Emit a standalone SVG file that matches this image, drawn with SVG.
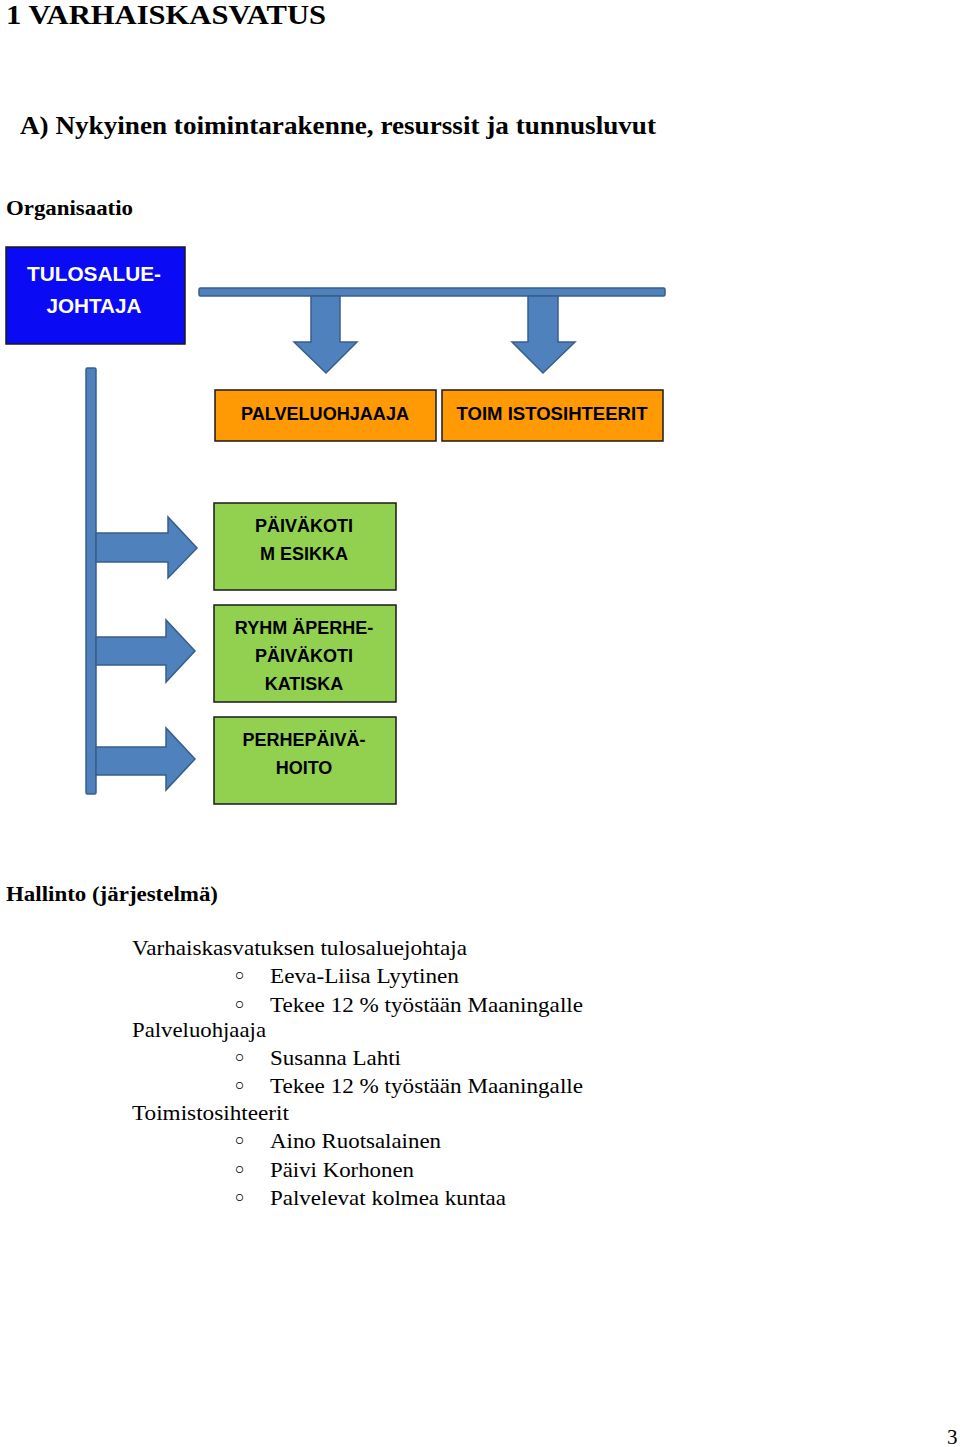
<svg xmlns="http://www.w3.org/2000/svg" width="960" height="1447" viewBox="0 0 960 1447">
<style>
.h{font-family:"Liberation Serif","Times New Roman",serif;font-weight:bold;fill:#000}
.t{font-family:"Liberation Serif","Times New Roman",serif;font-size:21px;fill:#000}
.b{font-family:"DejaVu Sans",sans-serif;font-size:20px;font-weight:bold;fill:#000}
.n{font-family:"Liberation Sans",Arial,sans-serif;font-weight:bold;font-size:18px;fill:#000;text-anchor:middle}
.w{fill:#fff;font-size:20px}
.arr{fill:#4F81BD;stroke:#385D8A;stroke-width:1.5}
.box{stroke:#1a1a1a;stroke-width:1.5}
</style>
<rect width="960" height="1447" fill="#fff"/>
<text class="h" x="6" y="24" font-size="28" textLength="320" lengthAdjust="spacingAndGlyphs">1 VARHAISKASVATUS</text>
<text class="h" x="20" y="134" font-size="25" textLength="636" lengthAdjust="spacingAndGlyphs">A)  Nykyinen toimintarakenne, resurssit ja tunnusluvut</text>
<text class="h" x="6" y="215" font-size="20" textLength="127" lengthAdjust="spacingAndGlyphs">Organisaatio</text>

<g id="connectors">
<rect class="arr" x="199" y="288" width="466" height="8" rx="1.5"/>
<polygon class="arr" points="311,296 340,296 340,342 357,342 326,373 294,342 311,342"/>
<polygon class="arr" points="528,296 558,296 558,342 575,342 543,373 512,342 528,342"/>
<rect class="arr" x="86" y="368" width="10" height="426" rx="1.5"/>
<polygon class="arr" points="96,533 168,533 168,517 197,548 168,578 168,562 96,562"/>
<polygon class="arr" points="96,637 166,637 166,620 195,651 166,682 166,665 96,665"/>
<polygon class="arr" points="96,747 166,747 166,728 195,759 166,790 166,775 96,775"/>
</g>

<g id="tulosaluejohtaja">
<rect class="box" x="6" y="247" width="179" height="97" fill="#0A0AF5"/>
<text class="n w" x="94" y="281" textLength="134" lengthAdjust="spacingAndGlyphs">TULOSALUE-</text>
<text class="n w" x="94" y="313" textLength="95" lengthAdjust="spacingAndGlyphs">JOHTAJA</text>
</g>
<g id="palveluohjaaja">
<rect class="box" x="215" y="390" width="221" height="51" fill="#FF9A05"/>
<text class="n" x="325" y="420" textLength="168" lengthAdjust="spacingAndGlyphs">PALVELUOHJAAJA</text>
</g>
<g id="toimistosihteerit">
<rect class="box" x="442" y="390" width="221" height="51" fill="#FF9A05"/>
<text class="n" x="552" y="420" textLength="191" lengthAdjust="spacingAndGlyphs">TOIM ISTOSIHTEERIT</text>
</g>
<g id="mesikka">
<rect class="box" x="214" y="503" width="182" height="87" fill="#92D050"/>
<text class="n" x="304" y="532">PÄIVÄKOTI</text>
<text class="n" x="304" y="560">M ESIKKA</text>
</g>
<g id="katiska">
<rect class="box" x="214" y="605" width="182" height="97" fill="#92D050"/>
<text class="n" x="304" y="634">RYHM ÄPERHE-</text>
<text class="n" x="304" y="662">PÄIVÄKOTI</text>
<text class="n" x="304" y="690">KATISKA</text>
</g>
<g id="perhepaivahoito">
<rect class="box" x="214" y="717" width="182" height="87" fill="#92D050"/>
<text class="n" x="304" y="746">PERHEPÄIVÄ-</text>
<text class="n" x="304" y="774">HOITO</text>
</g>

<text class="h" x="6" y="901" font-size="20" textLength="212" lengthAdjust="spacingAndGlyphs">Hallinto (järjestelmä)</text>
<text class="t" x="132" y="955" textLength="335" lengthAdjust="spacingAndGlyphs">Varhaiskasvatuksen tulosaluejohtaja</text>
<text class="b" x="233" y="983">◦</text><text class="t" x="270" y="983" textLength="189" lengthAdjust="spacingAndGlyphs">Eeva-Liisa Lyytinen</text>
<text class="b" x="233" y="1012">◦</text><text class="t" x="270" y="1012" textLength="313" lengthAdjust="spacingAndGlyphs">Tekee 12 % työstään Maaningalle</text>
<text class="t" x="132" y="1037" textLength="134" lengthAdjust="spacingAndGlyphs">Palveluohjaaja</text>
<text class="b" x="233" y="1065">◦</text><text class="t" x="270" y="1065" textLength="131" lengthAdjust="spacingAndGlyphs">Susanna Lahti</text>
<text class="b" x="233" y="1093">◦</text><text class="t" x="270" y="1093" textLength="313" lengthAdjust="spacingAndGlyphs">Tekee 12 % työstään Maaningalle</text>
<text class="t" x="132" y="1120" textLength="157" lengthAdjust="spacingAndGlyphs">Toimistosihteerit</text>
<text class="b" x="233" y="1148">◦</text><text class="t" x="270" y="1148" textLength="171" lengthAdjust="spacingAndGlyphs">Aino Ruotsalainen</text>
<text class="b" x="233" y="1177">◦</text><text class="t" x="270" y="1177" textLength="144" lengthAdjust="spacingAndGlyphs">Päivi Korhonen</text>
<text class="b" x="233" y="1205">◦</text><text class="t" x="270" y="1205" textLength="236" lengthAdjust="spacingAndGlyphs">Palvelevat kolmea kuntaa</text>
<text class="t" x="947" y="1444">3</text>
</svg>
